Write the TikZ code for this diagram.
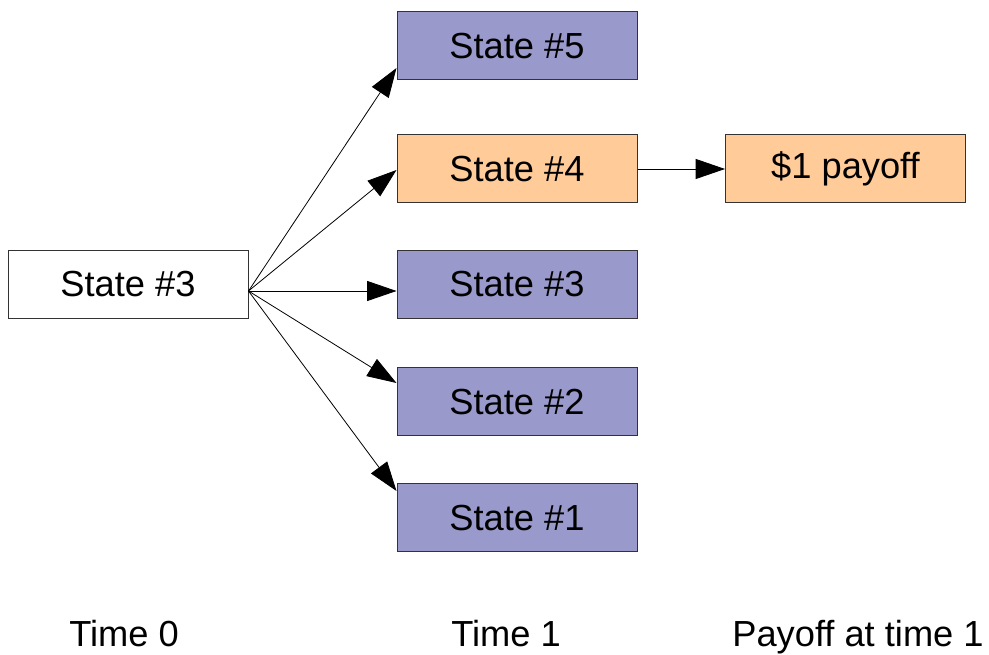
\documentclass[tikz,border=0pt]{standalone}
\usepackage{fontspec}
\setmainfont{Liberation Sans}
\usetikzlibrary{arrows.meta,calc}
\definecolor{stateblue}{HTML}{9999CC}
\definecolor{stateorange}{HTML}{FFCC99}
\definecolor{boxline}{HTML}{333333}
\begin{document}
\begin{tikzpicture}[x=0.75pt,y=-0.75pt,
  every node/.style={font=\fontsize{27.2pt}{30pt}\selectfont},
  statebox/.style={draw=boxline,line width=0.75pt,minimum width=180pt,minimum height=51pt,inner sep=0pt},
  arr/.style={line width=0.6pt,-{Triangle[length=22pt,width=15pt]}},
  lbl/.style={anchor=base}]
\useasboundingbox (0,0) rectangle (989,655);
\node[statebox,fill=white] (l3) at (128,284.5) {State \#3};
\node[statebox,fill=stateblue] (s5) at (517,46) {State \#5};
\node[statebox,fill=stateorange] (s4) at (517,169) {State \#4};
\node[statebox,fill=stateblue] (s3) at (517,284.5) {State \#3};
\node[statebox,fill=stateblue] (s2) at (517,402) {State \#2};
\node[statebox,fill=stateblue] (s1) at (517,518) {State \#1};
\node[statebox,fill=stateorange] (pay) at (845.5,169) {\$1 payoff};
\coordinate (src) at ($(l3.east)+(0,6.5)$);
\draw[arr] (src) -- ($(s5.west)+(0,22)$);
\draw[arr] (src) -- ($(s4.west)+(0,1)$);
\draw[arr] (src) -- ($(s3.west)+(0,6.5)$);
\draw[arr] (src) -- ($(s2.west)+(0,-19)$);
\draw[arr] (src) -- ($(s1.west)+(0,-27)$);
\draw[arr] (s4.east) -- (pay.west);
\node[lbl] (t0) at (124,646) {Time 0};
\node[lbl] (t1) at (506,646) {Time 1};
\node[lbl] (t2) at (858,646) {Payoff at time 1};
\end{tikzpicture}
\end{document}
